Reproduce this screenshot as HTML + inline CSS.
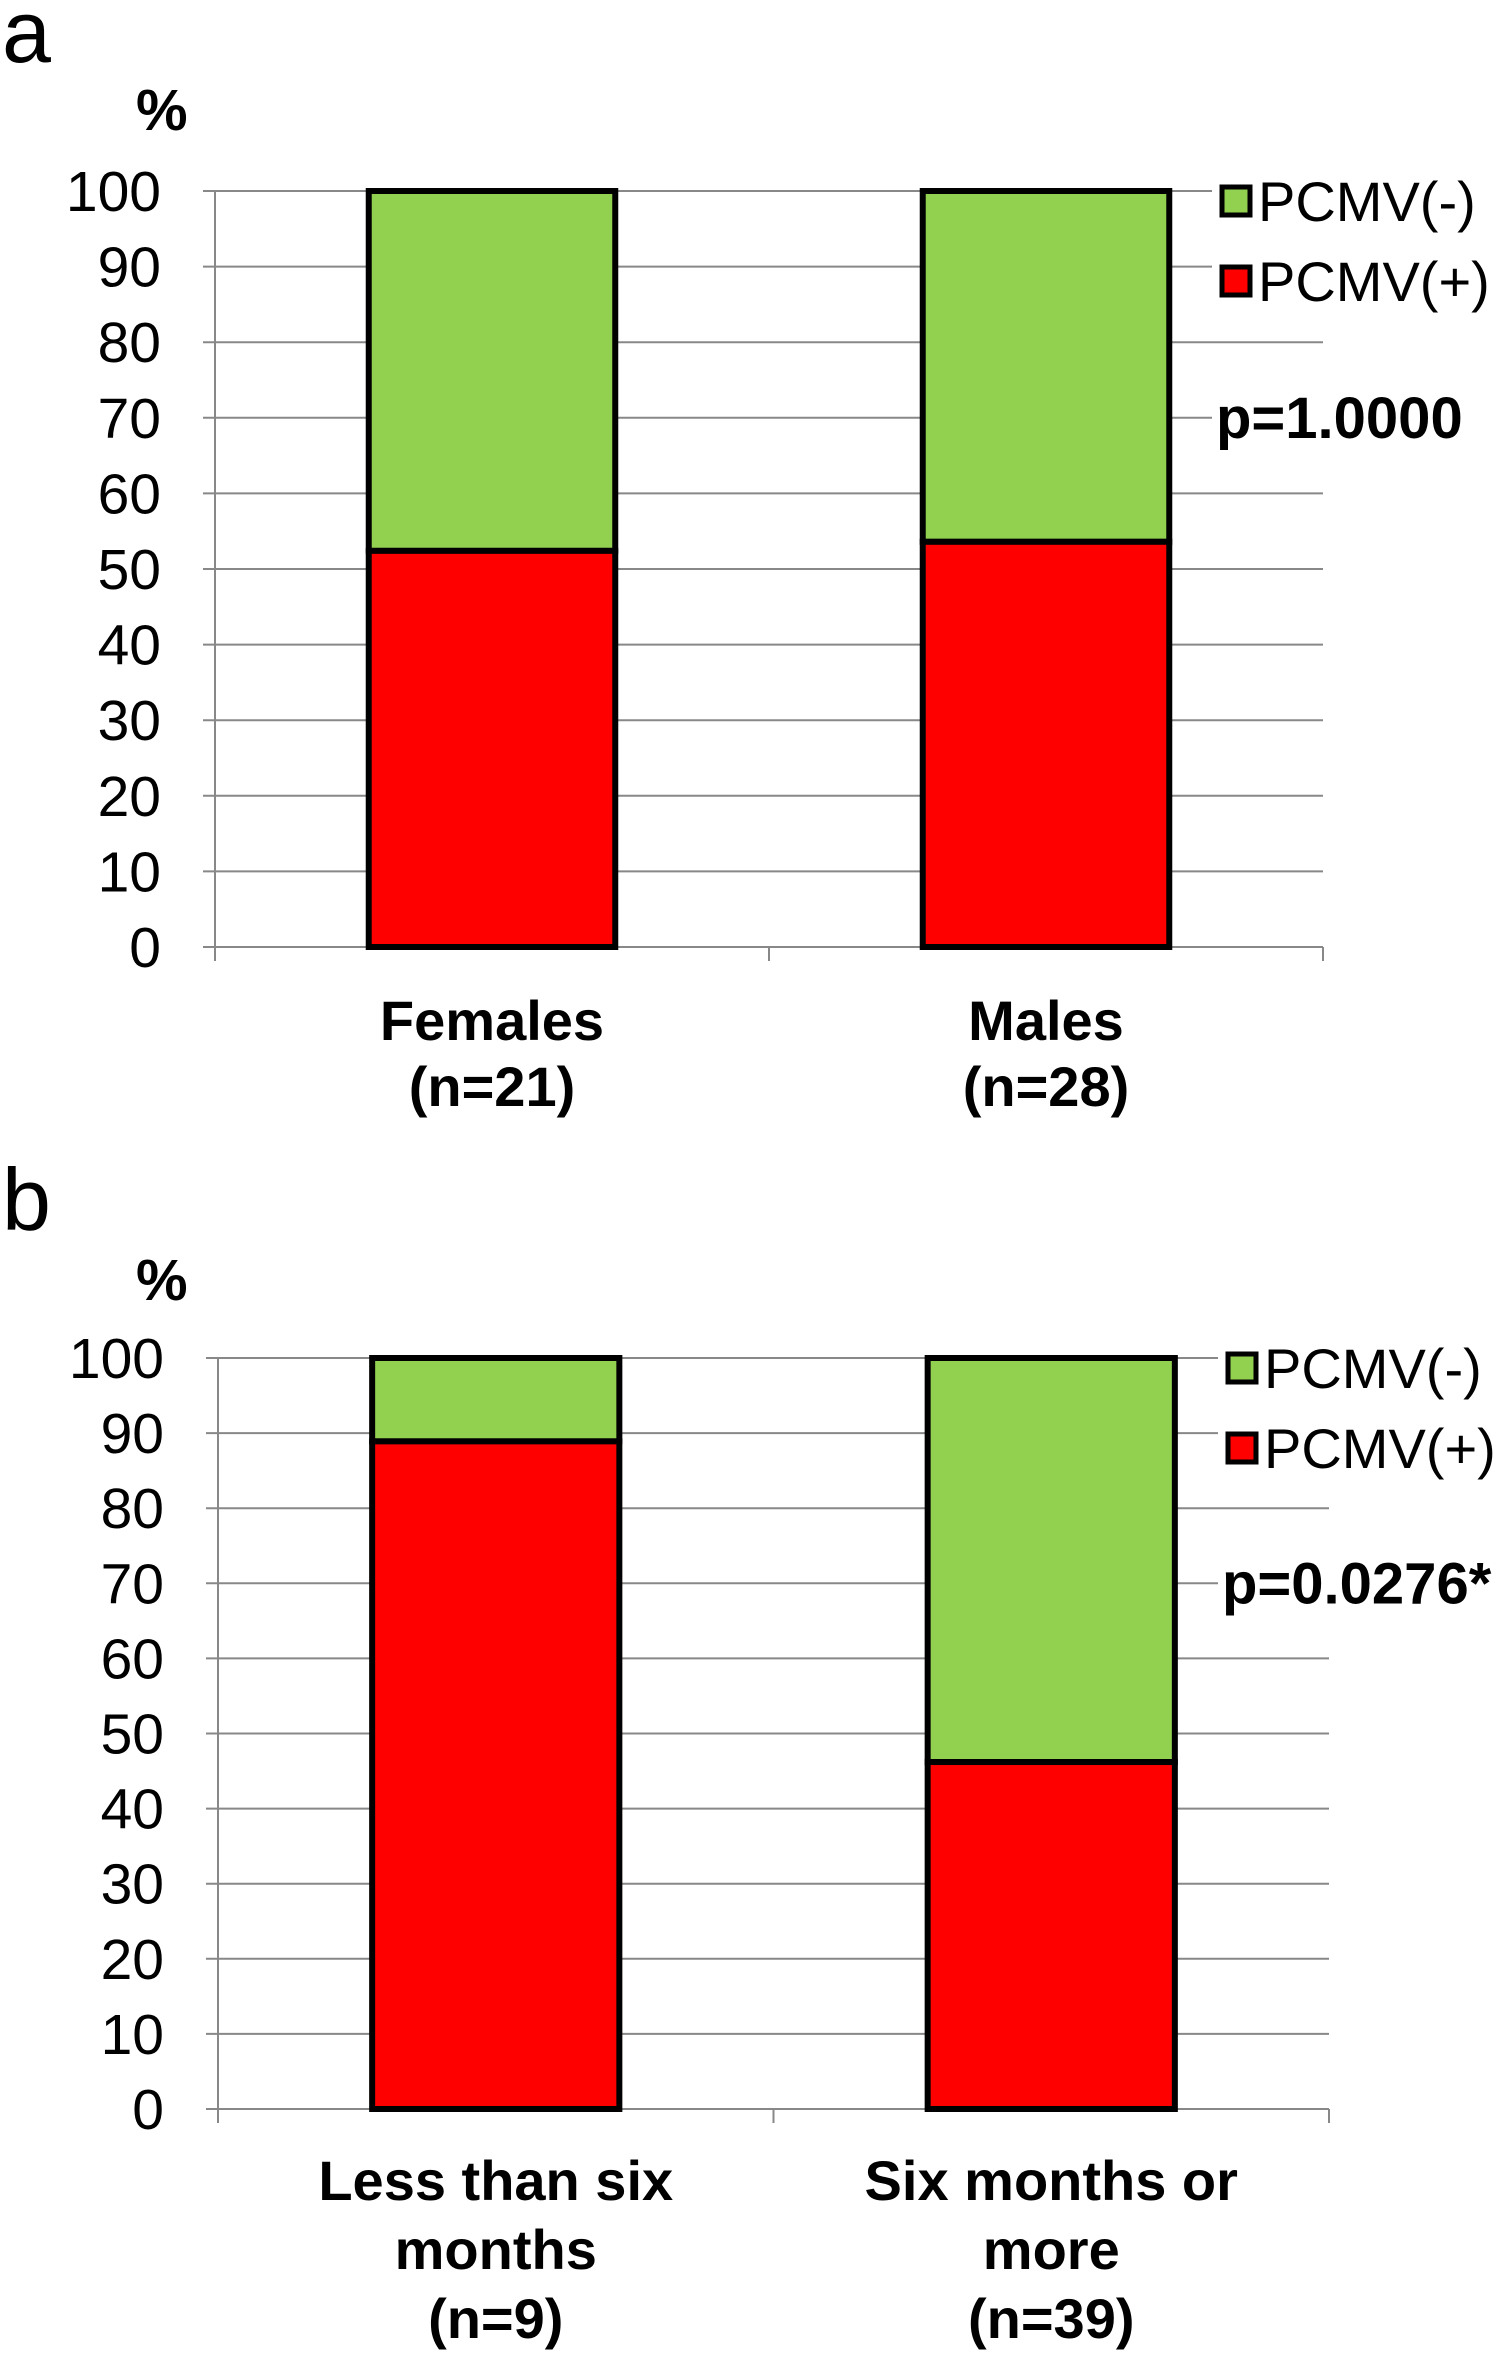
<!DOCTYPE html>
<html><head><meta charset="utf-8"><style>
html,body{margin:0;padding:0;background:#fff}
svg{display:block;font-family:"Liberation Sans",Arial,sans-serif}
</style></head><body>
<svg id="fig" width="1508" height="2353" viewBox="0 0 1508 2353" xmlns="http://www.w3.org/2000/svg"></svg>
<script>
const categoriesA = ["Females|(n=21)", "Males|(n=28)"];
const positiveA = [52.4, 53.6];
const pValueA = "p=1.0000";
const categoriesB = ["Less than six|months|(n=9)", "Six months or|more|(n=39)"];
const positiveB = [88.9, 46.2];
const pValueB = "p=0.0276*";
const yTicks = [0,10,20,30,40,50,60,70,80,90,100];
const legendLabels = ["PCMV(-)", "PCMV(+)"];

const NS = "http://www.w3.org/2000/svg";
const svg = document.getElementById("fig");
function mk(tag, attrs, parent){
  const e = document.createElementNS(NS, tag);
  for (const k in attrs) e.setAttribute(k, attrs[k]);
  (parent||svg).appendChild(e);
  return e;
}

function panel(cfg){
  const g = mk("g", {});
  
  
  const y = v => cfg.y0 + (cfg.y100 - cfg.y0) * v / 100;
  const lt = mk("text", {x: 2, y: cfg.letterY, "font-size": 88}, g);
  lt.textContent = cfg.letter;
  
  
  const pc = mk("text", {x: 136, y: cfg.pctY, "font-size": 58, "font-weight": "bold"}, g);
  pc.textContent = "%";
  
  
  yTicks.forEach(t => {
    const ln = mk("line", {x1: cfg.left - 12, x2: cfg.right, y1: y(t), y2: y(t), stroke: "#888", "stroke-width": 2}, g);
    
    
    const tx = mk("text", {x: cfg.left - 54, y: y(t) + 20, "font-size": 57, "text-anchor": "end"}, g);
    tx.textContent = t;
    
    
  });
  const ya = mk("line", {x1: cfg.left, x2: cfg.left, y1: cfg.y100, y2: cfg.y0 + 14, stroke: "#888", "stroke-width": 2}, g);
  
  
  const n = cfg.cats.length;
  const step = (cfg.right - cfg.left) / n;
  for (let i = 0; i <= n; i++) {
    const tk = mk("line", {x1: cfg.left + step*i, x2: cfg.left + step*i, y1: cfg.y0, y2: cfg.y0 + 14, stroke: "#888", "stroke-width": 2}, g);
    
    
  }
  mk("rect", {x: cfg.legX - 10, y: cfg.y100 - 35, width: 300, height: 130, fill: "#fff"}, g);
  mk("rect", {x: cfg.legX - 10, y: y(70) - 35, width: 300, height: 70, fill: "#fff"}, g);
  const bw = step * 0.445;
  cfg.cats.forEach((c, i) => {
    const cx = cfg.left + step * (i + 0.5);
    const pos = cfg.vals[i];
    const neg = mk("rect", {x: cx - bw/2, y: y(100), width: bw, height: y(pos) - y(100), fill: "#92d050", stroke: "#000", "stroke-width": 6}, g);
    
    
    const p = mk("rect", {x: cx - bw/2, y: y(pos), width: bw, height: y(0) - y(pos), fill: "#ff0000", stroke: "#000", "stroke-width": 6}, g);
    
    
    c.split("|").forEach((line, j) => {
      const t = mk("text", {x: cx, y: cfg.labY + j * cfg.labStep, "font-size": 56, "font-weight": "bold", "text-anchor": "middle"}, g);
      t.textContent = line;
      
      
    });
  });
  const colors = ["#92d050", "#ff0000"];
  legendLabels.forEach((l, i) => {
    const ly = cfg.y100 + 10 + i * 80;
    const sq = mk("rect", {x: cfg.legX, y: ly - 14, width: 28, height: 28, fill: colors[i], stroke: "#000", "stroke-width": 5}, g);
    
    
    const t = mk("text", {x: cfg.legX + 36, y: ly + 20, "font-size": 56}, g);
    t.textContent = l;
    
    
  });
  const pv = mk("text", {x: cfg.legX - 6, y: y(70) + 20, "font-size": 58, "font-weight": "bold"}, g);
  pv.textContent = cfg.p;
  
  
}

panel({letter: "a", letterY: 62, pctY: 130, left: 215, right: 1323, y0: 947, y100: 191,
  cats: categoriesA, vals: positiveA, p: pValueA, legX: 1222, labY: 1040, labStep: 66});
panel({letter: "b", letterY: 1230, pctY: 1300, left: 218, right: 1329, y0: 2109, y100: 1358,
  cats: categoriesB, vals: positiveB, p: pValueB, legX: 1228, labY: 2200, labStep: 69});
</script>
</body></html>
